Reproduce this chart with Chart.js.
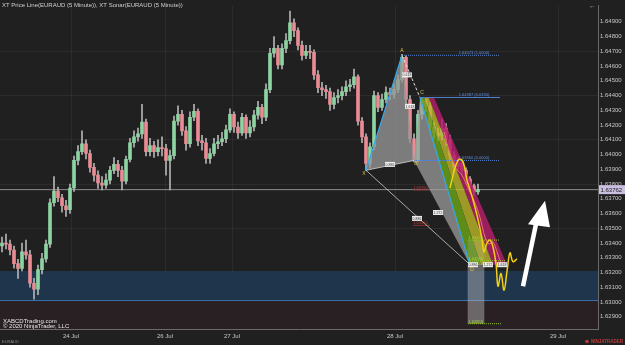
<!DOCTYPE html>
<html>
<head>
<meta charset="utf-8">
<script src="https://cdn.jsdelivr.net/npm/chart.js@4.4.1/dist/chart.umd.min.js"></script>
<style>
  html, body { margin: 0; padding: 0; background: #202020; }
</style>
</head>
<body>
<canvas id="grafico" width="625" height="345"></canvas>
<script>
// --- Dados (EURAUD 5 min) ---
const opens = [1.63380,1.63400,1.63393,1.63353,1.63260,1.63227,1.63340,1.63320,1.63127,1.63087,
  1.63220,1.63293,1.63393,1.63673,1.63753,1.63707,1.63653,1.63627,1.63773,1.63960,
  1.64020,1.64073,1.64007,1.63913,1.63860,1.63807,1.63793,1.63827,1.63893,1.63933,
  1.63893,1.63820,1.63967,1.64080,1.64120,1.64140,1.64220,1.64020,1.64060,1.64020,
  1.64047,1.64040,1.63960,1.63993,1.64227,1.64273,1.64160,1.64073,1.64253,1.64293,
  1.64093,1.64080,1.63973,1.64007,1.64073,1.64087,1.64107,1.64167,1.64273,1.64187,
  1.64147,1.64253,1.64147,1.64187,1.64267,1.64320,1.64253,1.64440,1.64687,1.64720,
  1.64607,1.64720,1.64773,1.64893,1.64840,1.64740,1.64673,1.64700,1.64693,1.64540,
  1.64453,1.64440,1.64427,1.64340,1.64387,1.64400,1.64427,1.64460,1.64473,1.64527,
  1.64227,1.64120,1.63940,1.64053,1.64400,1.64320,1.64373,1.64420,1.64407,1.64440,
  1.64507,1.64660,1.64373,1.64107,1.63960,1.64273,1.64367,1.64327,1.64187,1.64147,
  1.64127,1.64180,1.64100,1.63993,1.63920,1.63940,1.63893,1.63833,1.63787,1.63747];
const highs = [1.63440,1.63460,1.63420,1.63380,1.63290,1.63400,1.63420,1.63350,1.63160,1.63250,
  1.63330,1.63420,1.63700,1.63850,1.63780,1.63730,1.63690,1.63800,1.63990,1.64060,
  1.64160,1.64100,1.64030,1.63940,1.63890,1.63850,1.63870,1.63920,1.63980,1.63960,
  1.63920,1.63990,1.64110,1.64160,1.64180,1.64340,1.64240,1.64110,1.64090,1.64100,
  1.64120,1.64070,1.64030,1.64260,1.64330,1.64300,1.64190,1.64290,1.64340,1.64310,
  1.64130,1.64110,1.64040,1.64110,1.64130,1.64150,1.64200,1.64310,1.64290,1.64220,
  1.64280,1.64270,1.64230,1.64300,1.64360,1.64340,1.64480,1.64720,1.64800,1.64740,
  1.64750,1.64820,1.64973,1.64920,1.64860,1.64770,1.64740,1.64740,1.64710,1.64570,
  1.64490,1.64470,1.64450,1.64420,1.64440,1.64460,1.64500,1.64510,1.64580,1.64540,
  1.64250,1.64140,1.64080,1.64430,1.64420,1.64410,1.64460,1.64450,1.64480,1.64540,
  1.64680,1.64670,1.64400,1.64140,1.64300,1.64387,1.64380,1.64350,1.64220,1.64180,
  1.64240,1.64210,1.64130,1.64020,1.63980,1.63960,1.63910,1.63850,1.63800,1.63800];
const lows = [1.63340,1.63360,1.63320,1.63230,1.63160,1.63210,1.63290,1.63100,1.63020,1.63050,
  1.63190,1.63270,1.63370,1.63650,1.63680,1.63610,1.63580,1.63600,1.63750,1.63930,
  1.64000,1.63970,1.63880,1.63820,1.63770,1.63760,1.63770,1.63800,1.63870,1.63850,
  1.63760,1.63800,1.63950,1.64050,1.64090,1.64110,1.63990,1.63990,1.63980,1.63990,
  1.63990,1.63860,1.63760,1.63970,1.64200,1.64130,1.64030,1.64050,1.64230,1.64060,
  1.64030,1.63940,1.63940,1.63990,1.64040,1.64060,1.64080,1.64150,1.64150,1.64110,
  1.64130,1.64110,1.64120,1.64160,1.64240,1.64210,1.64230,1.64420,1.64660,1.64580,
  1.64580,1.64690,1.64750,1.64800,1.64710,1.64640,1.64650,1.64650,1.64510,1.64420,
  1.64400,1.64380,1.64300,1.64310,1.64350,1.64370,1.64400,1.64430,1.64450,1.64200,
  1.64080,1.63893,1.63910,1.64030,1.64290,1.64300,1.64350,1.64370,1.64380,1.64420,
  1.64490,1.64340,1.64080,1.63950,1.63950,1.64240,1.64290,1.64160,1.64110,1.64090,
  1.64100,1.64060,1.63960,1.63880,1.63890,1.63860,1.63800,1.63750,1.63720,1.63730];
const closes = [1.63400,1.63393,1.63353,1.63260,1.63227,1.63340,1.63320,1.63127,1.63087,1.63220,
  1.63293,1.63393,1.63673,1.63753,1.63707,1.63653,1.63627,1.63773,1.63960,1.64020,
  1.64073,1.64007,1.63913,1.63860,1.63807,1.63793,1.63827,1.63893,1.63933,1.63893,
  1.63820,1.63967,1.64080,1.64120,1.64140,1.64220,1.64020,1.64060,1.64020,1.64047,
  1.64040,1.63960,1.63993,1.64227,1.64273,1.64160,1.64073,1.64253,1.64293,1.64093,
  1.64080,1.63973,1.64007,1.64073,1.64087,1.64107,1.64167,1.64273,1.64187,1.64147,
  1.64253,1.64147,1.64187,1.64267,1.64320,1.64253,1.64440,1.64687,1.64720,1.64607,
  1.64720,1.64773,1.64893,1.64840,1.64740,1.64673,1.64700,1.64693,1.64540,1.64453,
  1.64440,1.64427,1.64340,1.64387,1.64400,1.64427,1.64460,1.64473,1.64527,1.64227,
  1.64120,1.63940,1.64053,1.64400,1.64320,1.64373,1.64420,1.64407,1.64440,1.64507,
  1.64660,1.64373,1.64107,1.63960,1.64273,1.64367,1.64327,1.64187,1.64147,1.64127,
  1.64180,1.64100,1.63993,1.63920,1.63940,1.63893,1.63833,1.63787,1.63747,1.63762];

const lastPrice = 1.63762;

// eixos
const dayTicks = [17.25, 40.75, 57.5, 98.25, 139];
const dayLabels = ['24 Jul', '26 Jul', '27 Jul', '28 Jul', '29 Jul'];
const priceTicks = [1.629,1.630,1.631,1.632,1.633,1.634,1.635,1.636,1.637,1.638,
  1.639,1.640,1.641,1.642,1.643,1.644,1.645,1.646,1.647,1.648,1.649];

// padrão XABCD
const patNames = ['X', 'A', 'B', 'C', 'D'];
const patIdx = [91, 100, 103, 104.5, 117];
const patPrice = [1.63893, 1.64673, 1.63960, 1.64387, 1.63253];

// leque a partir de C (verde, amarelo, magenta)
const fanTopIdx = [104.5, 105.6, 106.7, 108];
const fanBottomIdx = [117, 119.75, 122.75, 126.25];

// zona de demanda
const zoneTop = 1.6321;
const zoneBottom = 1.6301;

// níveis projetados
const blueLevels = [1.64673, 1.64387, 1.63960];
const blueStart = [100.5, 104.5, 103];
const blueLabels = ['1.64673 (1.0000)', '1.64387 (0.6330)', '1.63960 (0.0000)'];
const greenLevels = [1.63420, 1.63280, 1.62853];
const greenEnd = [124.5, 125.75, 125];
const greenLabels = ['1.63420', '1.63280', '1.62853'];
const redLevels = [1.63760, 1.63520];
const redLabels = ['1.63760', '1.63520'];

// XT Sonar e linha de preço
const sonarIdx = [112, 113.25, 114.25, 115.25, 116.25, 117, 117.75, 119, 120, 120.5, 121.25, 122,
  122.75, 123.5, 124, 124.75, 125.5, 126.25, 127, 127.75, 128.75];
const sonarValues = [1.63773, 1.63907, 1.63967, 1.63953, 1.63827, 1.63760, 1.63693, 1.63560, 1.63427,
  1.63340, 1.63400, 1.63420, 1.63373, 1.63260, 1.63107, 1.63193, 1.63080, 1.63207, 1.63333, 1.63273, 1.63293];
const priceLineIdx = [110.5, 112, 113.5, 115, 116.5, 118, 119.5, 120.75, 121.75, 122.75, 123.75, 124.75];
const priceLineValues = [1.64153, 1.64007, 1.63907, 1.63860, 1.63773, 1.63687, 1.63573, 1.63440,
  1.63393, 1.63407, 1.63340, 1.63260];

// seta
const arrowShaftIdx = [130.25, 134];
const arrowShaftPrice = [1.63107, 1.63593];
const arrowHeadIdx = [135.75, 131.5, 137];
const arrowHeadPrice = [1.63687, 1.63527, 1.63507];

// rótulos de razão (caixas brancas)
const ratioIdx = [97, 102, 101.25, 103.75, 109, 117.75, 121.5, 125];
const ratioPrice = [1.63933, 1.64327, 1.64540, 1.63567, 1.63607, 1.63253, 1.63253, 1.63253];
const ratioTexts = ['0.886', '1.618', '0.618', '0.886', '1.272', '0.886', '1.272', '1.618'];

// --- Montagem ---
const pt = (x, y) => ({ x, y });
const pat = (n) => pt(patIdx[n], patPrice[n]);
const xMin = -0.5, xMax = 149;

const wickData = closes.map((c, i) => pt(i, [lows[i], highs[i]]));
const bodyData = closes.map((c, i) => pt(i, [opens[i], c]));
const bodyColors = closes.map((c, i) => c >= opens[i] ? '#8ed4a2' : '#e98c94');

const lineDs = (data, color, width, order, extra) => Object.assign({
  type: 'line', data, borderColor: color, borderWidth: width, pointRadius: 0,
  fill: false, tension: 0, order
}, extra || {});
const shapeDs = (data, color, order) => ({
  type: 'line', data, borderWidth: 0, borderColor: 'transparent', backgroundColor: color,
  fill: 'shape', pointRadius: 0, tension: 0, order
});

const fanColors = ['rgba(104,160,24,0.85)', 'rgba(190,182,40,0.8)', 'rgba(176,30,104,0.85)'];
const fanSets = fanColors.map((cor, k) => shapeDs([
  pt(fanTopIdx[k], patPrice[3]), pt(fanTopIdx[k + 1], patPrice[3]),
  pt(fanBottomIdx[k + 1], patPrice[4]), pt(fanBottomIdx[k], patPrice[4])
], cor, 9));

const datasets = [
  // zonas
  lineDs([pt(xMin, zoneTop), pt(xMax, zoneTop)], 'transparent', 0, 30,
    { fill: { value: zoneBottom }, backgroundColor: '#1f354c' }),
  lineDs([pt(xMin, zoneBottom), pt(xMax, zoneBottom)], '#3a72ad', 1, 29,
    { fill: 'start', backgroundColor: '#292024' }),
  // preço atual
  lineDs([pt(xMin, lastPrice), pt(xMax, lastPrice)], '#8c8c8c', 1, 28),
  // candles
  { type: 'bar', data: wickData, backgroundColor: '#b4b4b4', barThickness: 1, grouped: false, order: 16 },
  { type: 'bar', data: bodyData, backgroundColor: bodyColors, barThickness: 3, grouped: false,
    minBarLength: 1, order: 15 },
  // triângulos do padrão
  shapeDs([pat(0), pat(1), pat(2)], 'rgba(150,150,150,0.78)', 11),
  shapeDs([pat(2), pat(3), pat(4)], 'rgba(160,160,160,0.72)', 10),
  ...fanSets,
  // caixas cinzas em D
  { type: 'bar', data: [pt(118.5, [greenLevels[2], patPrice[4]])], backgroundColor: 'rgba(200,200,200,0.42)',
    barThickness: 16, grouped: false, order: 8 },
  { type: 'bar', data: [pt(118.5, [patPrice[4], greenLevels[0]])], backgroundColor: 'rgba(210,210,210,0.16)',
    barThickness: 16, grouped: false, order: 8 },
  // níveis
  ...blueLevels.map((v, k) => lineDs([pt(blueStart[k], v), pt(124.5, v)], '#4f7fcf', 1, 6,
    { borderDash: k === 1 ? [] : [1, 1] })),
  ...greenLevels.map((v, k) => lineDs([pt(116.5, v), pt(greenEnd[k], v)], '#93c422', 1, 6, { borderDash: [1, 1] })),
  ...redLevels.map((v) => lineDs([pt(102.75, v), pt(107, v)], '#8e2f2f', 1, 6)),
  // linhas brancas
  lineDs([pat(0), pat(4)], 'rgba(235,235,235,0.85)', 0.8, 5),
  lineDs([pat(0), pat(2)], 'rgba(235,235,235,0.85)', 0.8, 5),
  lineDs([pat(1), pat(3)], 'rgba(235,235,235,0.9)', 1, 5, { borderDash: [3, 2] }),
  // bordas ciano
  lineDs([pat(0), pat(1)], '#37a8ea', 1.2, 4),
  lineDs([pat(3), pat(4)], '#37a8ea', 1.2, 4),
  // linhas do indicador
  lineDs(priceLineIdx.map((x, i) => pt(x, priceLineValues[i])), '#e27d62', 1, 3, { tension: 0.3 }),
  lineDs(sonarIdx.map((x, i) => pt(x, sonarValues[i])), '#f3cf12', 1.5, 2, { tension: 0.4 }),
  // seta
  lineDs(arrowShaftIdx.map((x, i) => pt(x, arrowShaftPrice[i])), '#ffffff', 4.5, 1),
  shapeDs(arrowHeadIdx.map((x, i) => pt(x, arrowHeadPrice[i])), '#ffffff', 1)
];

const fonte = '"Liberation Sans", Arial, sans-serif';

const anotacoes = {
  id: 'anotacoes',
  afterDatasetsDraw(chart) {
    const { ctx, scales: { x, y } } = chart;
    ctx.save();
    ctx.textBaseline = 'alphabetic';
    ctx.font = '4px ' + fonte;
    ctx.textAlign = 'center';
    ctx.fillStyle = '#5d8fe0';
    blueLevels.forEach((v, k) => ctx.fillText(blueLabels[k], x.getPixelForValue(118), y.getPixelForValue(v) - 1.5));
    ctx.textAlign = 'left';
    ctx.fillStyle = '#a6d43a';
    greenLevels.forEach((v, k) => ctx.fillText(greenLabels[k], x.getPixelForValue(116.6), y.getPixelForValue(v) - 1));
    ctx.fillStyle = '#b04040';
    redLevels.forEach((v, k) => ctx.fillText(redLabels[k], x.getPixelForValue(102.8), y.getPixelForValue(v) - 1));
    // caixas de razão
    ratioIdx.forEach((xi, k) => {
      const px = x.getPixelForValue(xi), py = y.getPixelForValue(ratioPrice[k]);
      ctx.fillStyle = 'rgba(245,245,245,0.95)';
      ctx.fillRect(px - 5, py - 2.5, 10, 5);
      ctx.fillStyle = '#333';
      ctx.textAlign = 'center';
      ctx.font = '3.5px ' + fonte;
      ctx.fillText(ratioTexts[k], px, py + 1.3);
    });
    // letras do padrão
    ctx.font = '5px ' + fonte;
    ctx.fillStyle = '#d9c94a';
    const offs = [[-2, 5], [0, -3], [2, 5], [2, -3], [2, 6]];
    patNames.forEach((n, k) => ctx.fillText(n, x.getPixelForValue(patIdx[k]) + offs[k][0], y.getPixelForValue(patPrice[k]) + offs[k][1]));
    ctx.restore();
  },
  afterDraw(chart) {
    const { ctx, scales: { x, y } } = chart;
    ctx.save();
    ctx.textBaseline = 'alphabetic';
    ctx.textAlign = 'left';
    ctx.fillStyle = '#d0d0d0';
    ctx.font = '6px ' + fonte;
    ctx.fillText('XT Price Line(EURAUD (5 Minute)), XT Sonar(EURAUD (5 Minute))', 2, 7);
    ctx.fillStyle = '#e8e8e8';
    ctx.fillText('XABCDTrading.com', 3, 323);
    ctx.fillText('\u00a9 2020 NinjaTrader, LLC', 3, 328);
    ctx.fillStyle = '#aaa';
    ctx.font = '7px ' + fonte;
    ctx.fillText('\u2190', 589, 8);
    ctx.font = '4px ' + fonte;
    ctx.fillStyle = '#8a8a8a';
    ctx.fillText('EURAUD', 2, 343);
    ctx.fillStyle = '#c23a3a';
    ctx.font = 'bold 4.5px ' + fonte;
    ctx.fillText('NINJATRADER', 591, 343);
    ctx.beginPath();
    ctx.arc(587, 341.5, 1.8, 0, Math.PI * 2);
    ctx.fill();
    // etiqueta do preço atual
    const py = y.getPixelForValue(lastPrice);
    ctx.fillStyle = '#cabfe0';
    ctx.fillRect(x.right + 1, py - 4.5, 26, 9);
    ctx.fillStyle = '#1c1c1c';
    ctx.font = '6px ' + fonte;
    ctx.textBaseline = 'middle';
    ctx.fillText(lastPrice.toFixed(5), x.right + 2.5, py + 0.5);
    ctx.restore();
  }
};

const fundo = {
  id: 'fundo',
  beforeDraw(chart) {
    const { ctx } = chart;
    ctx.save();
    ctx.fillStyle = '#202020';
    ctx.fillRect(0, 0, chart.width, chart.height);
    ctx.restore();
  }
};

new Chart(document.getElementById('grafico'), {
  type: 'bar',
  data: { datasets },
  options: {
    responsive: false,
    animation: false,
    events: [],
    layout: { padding: 0 },
    plugins: { legend: { display: false }, tooltip: { enabled: false } },
    scales: {
      x: {
        type: 'linear', min: xMin, max: xMax, offset: false,
        afterBuildTicks: (s) => { s.ticks = dayTicks.map((v) => ({ value: v })); },
        afterFit: (s) => { s.height = 16; },
        ticks: {
          color: '#c8c8c8', font: { size: 6, family: fonte }, padding: 4, autoSkip: false, maxRotation: 0,
          callback: (v) => { const k = dayTicks.indexOf(v); return k >= 0 ? dayLabels[k] : ''; }
        },
        grid: { color: 'rgba(255,255,255,0.05)', drawTicks: false, offset: false },
        border: { color: '#6a6a6a' }
      },
      y: {
        position: 'right', min: 1.62817, max: 1.6501,
        afterBuildTicks: (s) => { s.ticks = priceTicks.map((v) => ({ value: v })); },
        afterFit: (s) => { s.width = 27; },
        ticks: { color: '#c8c8c8', font: { size: 6, family: fonte }, padding: 2, callback: (v) => v.toFixed(5) },
        grid: {
          drawTicks: false,
          color: (c) => (c.tick && Math.round((c.tick.value - 1.629) * 1000) % 3 === 0) ? 'rgba(255,255,255,0.05)' : 'transparent'
        },
        border: { color: '#6a6a6a' }
      }
    }
  },
  plugins: [fundo, anotacoes]
});
</script>
</body>
</html>
